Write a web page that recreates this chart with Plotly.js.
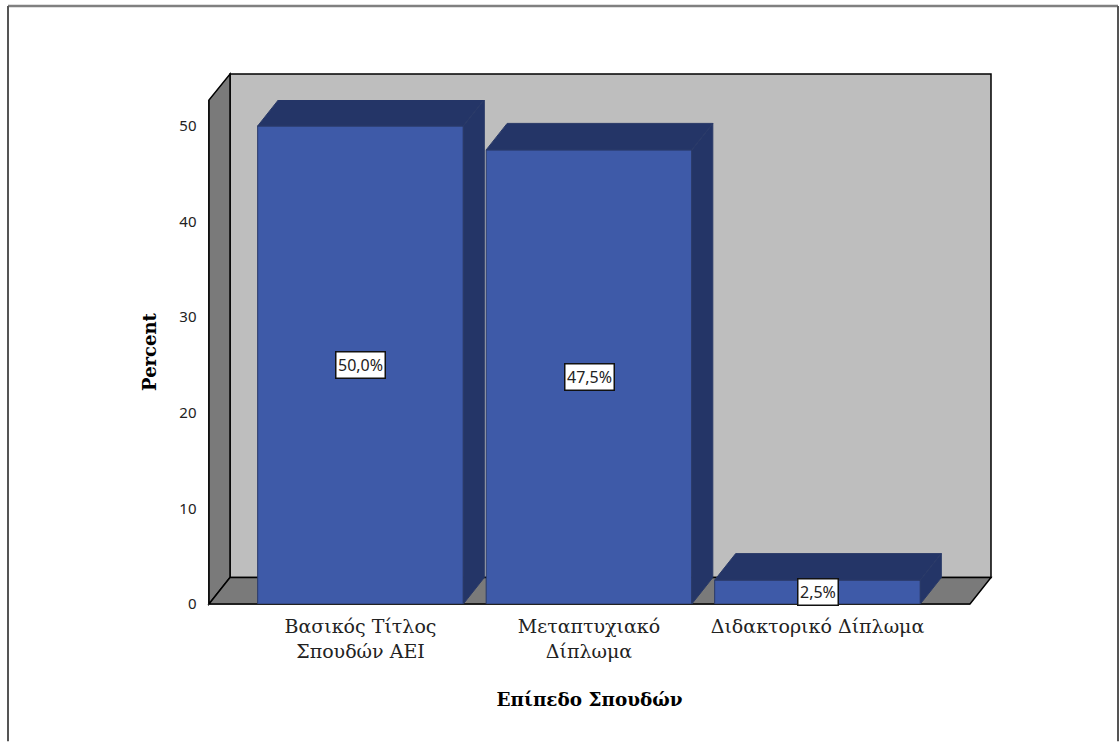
<!DOCTYPE html>
<html>
<head>
<meta charset="utf-8">
<script src="https://cdn.plot.ly/plotly-3.0.1.min.js"></script>
<style>html,body{margin:0;padding:0;background:#fff}#chart{width:1120px;height:742px}</style>
</head>
<body>
<div id="chart"></div>
<script>
var categories = ["Βασικός Τίτλος<br>Σπουδών ΑΕΙ", "Μεταπτυχιακό<br>Δίπλωμα", "Διδακτορικό Δίπλωμα"];
var percents = [50.0, 47.5, 2.5];
var percentLabels = ["50,0%", "47,5%", "2,5%"];
var yTicks = [0, 10, 20, 30, 40, 50];

var positions = categories.map(function (_, i) { return i; });
var FRONT = '#3E5AA8', DARK = '#243567', EDGE = '#2a3a68';
var WALL = '#BEBEBE', SIDE = '#7A7A7A';
var barWidth = 0.9, depthX = 21 / 228.5, depthY = 26.5 / 9.57;

// plot area (front plane) in pixels
var L = 209, T = 100, R = 970, B = 604.5;
function px(X) { return (X - L) / (R - L); }
function py(Y) { return (B - Y) / (B - T); }
function poly(pts, fill, line) {
  var d = pts.map(function (p, i) { return (i ? 'L' : 'M') + px(p[0]) + ' ' + py(p[1]); }).join(' ') + ' Z';
  return { type: 'path', xref: 'paper', yref: 'paper', path: d, fillcolor: fill, layer: 'below',
           line: { color: line || '#000', width: 1.5 } };
}
function frameLine(x0, y0, x1, y1, color, w) {
  return { type: 'line', xref: 'paper', yref: 'paper', x0: px(x0), y0: py(y0), x1: px(x1), y1: py(y1),
           layer: 'below', line: { color: color, width: w } };
}

var shapes = [
  poly([[230, 74], [991, 74], [991, 578], [230, 578]], WALL),
  poly([[209, 604.5], [230, 578], [230, 74], [209, 100]], SIDE),
  poly([[209, 604.5], [970, 604.5], [991, 578], [230, 578]], SIDE),
  frameLine(8, 6, 1118, 6, '#808080', 2.5),
  frameLine(8, 6, 8, 742, '#555555', 2),
  frameLine(1118, 6, 1118, 742, '#555555', 2)
];

var traces = [{
  type: 'bar', x: positions, y: percents, width: barWidth,
  marker: { color: FRONT, line: { color: EDGE, width: 1 } },
  hoverinfo: 'skip', showlegend: false
}];
percents.forEach(function (v, i) {
  var a = positions[i] - barWidth / 2, b = positions[i] + barWidth / 2;
  traces.push({
    type: 'scatter', mode: 'lines', fill: 'toself', fillcolor: DARK, cliponaxis: false,
    x: [a, b, b + depthX, a + depthX, a], y: [v, v, v + depthY, v + depthY, v],
    line: { color: EDGE, width: 1 }, hoverinfo: 'skip', showlegend: false
  });
  traces.push({
    type: 'scatter', mode: 'lines', fill: 'toself', fillcolor: DARK, cliponaxis: false,
    x: [b, b + depthX, b + depthX, b, b], y: [0, depthY, v + depthY, v, 0],
    line: { color: EDGE, width: 1 }, hoverinfo: 'skip', showlegend: false
  });
});

var annotations = percents.map(function (v, i) {
  return {
    x: positions[i], y: v / 2, xref: 'x', yref: 'y', text: percentLabels[i], showarrow: false,
    bgcolor: '#fff', bordercolor: '#111', borderwidth: 1.5, borderpad: 1.5,
    font: { family: '"Noto Sans"', size: 16, color: '#222' }
  };
});

var layout = {
  width: 1120, height: 742,
  margin: { l: L, r: 1120 - R, t: T, b: 742 - B, pad: 0 },
  paper_bgcolor: '#fff', plot_bgcolor: 'rgba(0,0,0,0)',
  showlegend: false,
  shapes: shapes, annotations: annotations,
  xaxis: {
    range: [(L - 360.5) / 228.5, (R - 360.5) / 228.5],
    tickmode: 'array', tickvals: positions, ticktext: categories,
    ticks: '', showgrid: false, zeroline: false, showline: true, linecolor: '#222', linewidth: 1,
    tickfont: { family: '"DejaVu Serif"', size: 19, color: '#222' }, ticklabelstandoff: 5,
    title: { text: 'Επίπεδο Σπουδών', standoff: 32, font: { family: '"DejaVu Serif"', size: 18.4, color: '#000', weight: 'bold' } }
  },
  yaxis: {
    range: [0, (B - T) / 9.57],
    tickmode: 'array', tickvals: yTicks, ticktext: yTicks.map(String),
    ticks: '', showgrid: false, zeroline: false, showline: true, linecolor: '#111', linewidth: 1.5,
    tickfont: { family: '"Noto Sans"', size: 15, color: '#222' }, ticklabelstandoff: 8,
    title: { text: 'Percent', standoff: 18, font: { family: '"DejaVu Serif"', size: 18, color: '#000', weight: 'bold' } }
  }
};
Plotly.newPlot('chart', traces, layout, { displayModeBar: false, staticPlot: true });
</script>
</body>
</html>
